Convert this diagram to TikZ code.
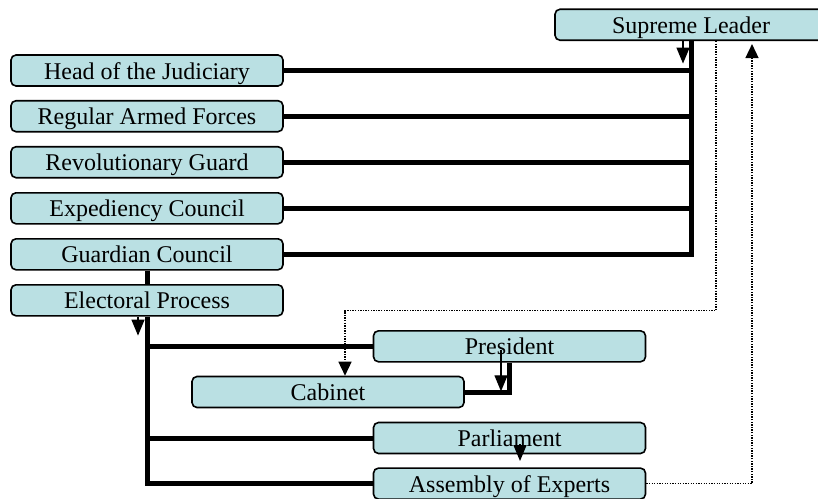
\documentclass[tikz,border=0pt]{standalone}
\usepackage{fontspec}
\setmainfont{Liberation Serif}
\usetikzlibrary{arrows.meta,calc}
\definecolor{boxfill}{RGB}{186,224,227}
\begin{document}
\begin{tikzpicture}[x=1pt,y=-1pt,
  orgbox/.style={draw=black, line width=1.6pt, fill=boxfill, rounded corners=5pt,
    minimum width=272pt, minimum height=31pt, inner sep=0pt,
    text height=18pt, text depth=1pt, font=\fontsize{24}{28}\selectfont},
  link/.style={line width=5pt},
  pointer/.style={line width=1.3pt, -{Triangle[length=16pt,width=13pt]}},
  dotlink/.style={line width=1.5pt, dash pattern=on 1.3pt off 1.3pt,
    -{Triangle[length=14pt,width=13pt]}}
]
\useasboundingbox (0,0) rectangle (818,498);
\begin{scope}
\clip (0,0) rectangle (818,498);

% positions of the boxes
\coordinate (slpos) at (691,24.75);
\coordinate (hjpos) at (147,70.5);
\coordinate (afpos) at (147,116.2);
\coordinate (rgpos) at (147,162.2);
\coordinate (ecpos) at (147,208.3);
\coordinate (gcpos) at (147,254.3);
\coordinate (eppos) at (147,300.3);
\coordinate (prpos) at (509.5,346.3);
\coordinate (cbpos) at (328,392);
\coordinate (papos) at (509.5,438);
\coordinate (aspos) at (509.5,483.6);

% boxes (placed invisibly first so that the connectors can use their anchors)
\begin{scope}[every node/.style={orgbox, draw=none, fill=none, text opacity=0}]
\node (sl) at (slpos) {Supreme Leader};
\node (hj) at (hjpos) {Head of the Judiciary};
\node (af) at (afpos) {Regular Armed Forces};
\node (rg) at (rgpos) {Revolutionary Guard};
\node (ec) at (ecpos) {Expediency Council};
\node (gc) at (gcpos) {Guardian Council};
\node (ep) at (eppos) {Electoral Process};
\node (pr) at (prpos) {President};
\node (cb) at (cbpos) {Cabinet};
\node (pa) at (papos) {Parliament};
\node (as) at (aspos) {Assembly of Experts};
\end{scope}

% thick reporting lines
\draw[link] (sl.south) |- (gc.east);
\foreach \b in {hj,af,rg,ec}
  \draw[link] (\b.east) -- (\b.east -| sl.south);
\draw[link] (gc.south) -- (ep.north);
\draw[link] (ep.south) |- (as.west);
\draw[link] (ep.south |- pr.west) -- (pr.west);
\draw[link] (ep.south |- pa.west) -- (pa.west);
\draw[link] (pr.south) |- (cb.east);

% visible boxes
\node[orgbox] at (slpos) {Supreme Leader};
\node[orgbox] at (hjpos) {Head of the Judiciary};
\node[orgbox] at (afpos) {Regular Armed Forces};
\node[orgbox] at (rgpos) {Revolutionary Guard};
\node[orgbox] at (ecpos) {Expediency Council};
\node[orgbox] at (gcpos) {Guardian Council};
\node[orgbox] at (eppos) {Electoral Process};
\node[orgbox] at (prpos) {President};
\node[orgbox] at (cbpos) {Cabinet};
\node[orgbox] at (papos) {Parliament};
\node[orgbox] at (aspos) {Assembly of Experts};

% dotted appointment lines
\coordinate (slout) at ($(sl.south)+(25,0)$);
\coordinate (cbtap) at ($(cb.north)+(17,0)$);
\coordinate (slin) at ($(sl.south)+(61,3)$);
\draw[dotlink] (slout) -- ++(0,269.5) -| (cbtap);
\draw[dotlink] (as.east) -| (slin);

% small pointers
\draw[pointer] ($(sl.south)+(-8,0)$) -- ++(0,22.5);
\draw[pointer] ($(ep.south)+(-9,0)$) -- ++(0,19);
\draw[pointer] ($(pr.center)+(-8.5,4)$) -- ++(0,41);
\draw[pointer] ($(pa.center)+(10.5,6)$) -- ++(0,17);
\end{scope}
\end{tikzpicture}
\end{document}
